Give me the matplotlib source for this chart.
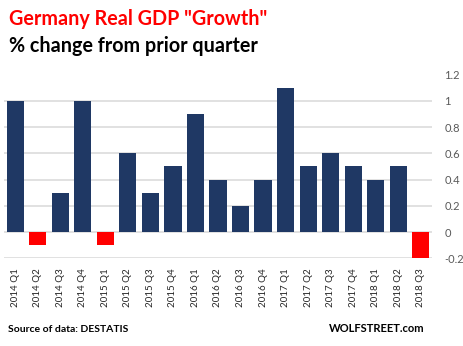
import matplotlib

matplotlib.use("Agg")
import matplotlib.pyplot as plt

quarters = [
    "2014 Q1", "2014 Q2", "2014 Q3", "2014 Q4",
    "2015 Q1", "2015 Q2", "2015 Q3", "2015 Q4",
    "2016 Q1", "2016 Q2", "2016 Q3", "2016 Q4",
    "2017 Q1", "2017 Q2", "2017 Q3", "2017 Q4",
    "2018 Q1", "2018 Q2", "2018 Q3",
]
growth = [1.0, -0.1, 0.3, 1.0, -0.1, 0.6, 0.3, 0.5, 0.9, 0.4,
          0.2, 0.4, 1.1, 0.5, 0.6, 0.5, 0.4, 0.5, -0.2]
y_ticks = [-0.2, 0, 0.2, 0.4, 0.6, 0.8, 1, 1.2]

NAVY = "#1f3864"
RED = "#ff0000"
plt.rcParams["font.family"] = ["Lato", "DejaVu Sans"]

fig = plt.figure(figsize=(4.63, 3.46), dpi=100)
ax = fig.add_axes([4 / 463, 1 - 258.3 / 346, 428 / 463, (258.3 - 74.5) / 346])

colors = [RED if v < 0 else NAVY for v in growth]
x = range(len(quarters))
ax.bar(x, growth, width=0.76, color=colors, zorder=3)

ax.set_xlim(-0.5, len(quarters) - 0.5)
ax.set_ylim(-0.2, 1.2)
ax.set_yticks(y_ticks, labels=[f"{t:g}" for t in y_ticks])
ax.yaxis.tick_right()
ax.tick_params(axis="y", length=0, pad=9, labelsize=8, labelcolor="#595959")
ax.set_xticks(list(x), labels=quarters, rotation=90)
ax.tick_params(axis="x", length=0, pad=7, labelsize=7, labelcolor="#262626")
ax.grid(axis="y", color="#d9d9d9", linewidth=1.1, zorder=0)
for spine in ax.spines.values():
    spine.set_visible(False)

fig.text(9 / 463, 1 - 19 / 346, 'Germany Real GDP "Growth"', color=RED,
         fontsize=14.2, fontweight="bold", va="center")
fig.text(9 / 463, 1 - 46 / 346, "% change from prior quarter", color="black",
         fontsize=14.2, fontweight="bold", va="center")
fig.text(8 / 463, 1 - 329 / 346, "Source of data: DESTATIS", color="black",
         fontsize=7.5, fontweight="bold", va="center")
fig.text(425 / 463, 1 - 329 / 346, "WOLFSTREET.com", color="black",
         fontsize=8, fontweight="bold", va="center", ha="right")

fig.savefig("out.png", dpi=100)
plt.close(fig)
